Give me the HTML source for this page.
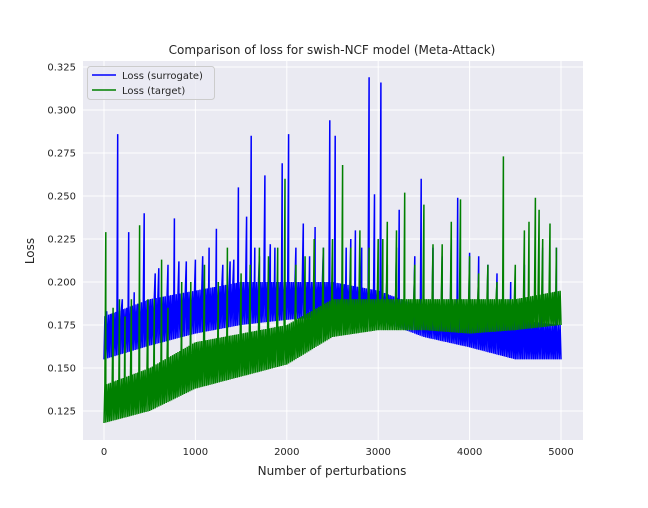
<!DOCTYPE html>
<html><head><meta charset="utf-8"><style>
body{margin:0;background:#fff;font-family:"DejaVu Sans","Liberation Sans",sans-serif;}
svg text{font-family:"DejaVu Sans","Liberation Sans",sans-serif;fill:#262626}
</style></head><body>
<svg id="chart" width="648" height="504">
<rect x="83" y="61" width="500" height="379" fill="#eaeaf2"/>
<g id="grid"></g><g id="series"></g><g id="axes"></g>
<text x="332" y="54" text-anchor="middle" font-size="12">Comparison of loss for swish-NCF model (Meta-Attack)</text>
<text x="332" y="475" text-anchor="middle" font-size="12">Number of perturbations</text>
<text x="34" y="251" text-anchor="middle" font-size="12" transform="rotate(-90 34 251)">Loss</text>
<g>
<rect x="87.5" y="66.5" width="127" height="33" rx="3" fill="#eaeaf2" fill-opacity="0.8" stroke="#ccc"/>
<g><line x1="92" y1="75" x2="116" y2="75" stroke="blue" stroke-width="1.5"/><text x="122" y="79" font-size="10">Loss (surrogate)</text></g>
<g><line x1="92" y1="90" x2="116" y2="90" stroke="green" stroke-width="1.5"/><text x="122" y="94" font-size="10">Loss (target)</text></g>
</g>
</svg>
<script>
const xTicks=[0,1000,2000,3000,4000,5000];
const yTicks=[0.125,0.150,0.175,0.200,0.225,0.250,0.275,0.300,0.325];
const envX=[0,500,1000,1500,2000,2500,3000,3500,4000,4500,5000];
const surrLo=[0.155,0.163,0.170,0.175,0.178,0.180,0.178,0.168,0.162,0.155,0.155];
const surrHi=[0.180,0.190,0.195,0.200,0.200,0.200,0.195,0.185,0.180,0.178,0.175];
const targLo=[0.118,0.125,0.138,0.145,0.152,0.168,0.172,0.172,0.170,0.172,0.175];
const targHi=[0.140,0.150,0.165,0.170,0.175,0.190,0.190,0.190,0.190,0.190,0.195];
const surrSpikeX=[150,270,440,770,1230,1470,1560,1610,1760,1950,2020,2180,2310,2470,2530,2900,2960,3030,3230,3470,3870,4000];
const surrSpikeY=[0.286,0.229,0.240,0.237,0.231,0.255,0.238,0.285,0.262,0.269,0.286,0.234,0.232,0.294,0.285,0.319,0.251,0.316,0.242,0.260,0.249,0.217];
const surrMidX=[30,80,200,330,390,560,600,700,820,900,1000,1080,1150,1300,1380,1420,1650,1700,1820,1870,2100,2250,2400,2650,2700,2750,2820,3100,3200,3400,3600,3700,3800,4100,4200,4300,4450,4600,4800,4950];
const surrMidY=[0.183,0.180,0.190,0.194,0.190,0.205,0.208,0.210,0.212,0.212,0.213,0.215,0.220,0.210,0.212,0.213,0.220,0.215,0.222,0.220,0.220,0.215,0.220,0.220,0.225,0.230,0.220,0.210,0.220,0.215,0.220,0.215,0.225,0.215,0.210,0.205,0.200,0.210,0.220,0.220];
const targSpikeX=[20,390,630,1980,2610,3050,3290,3900,4370,4720,4760,4880];
const targSpikeY=[0.229,0.233,0.213,0.260,0.268,0.225,0.252,0.248,0.273,0.249,0.242,0.234];
const targMidX=[100,170,230,300,480,550,700,850,950,1100,1250,1350,1500,1600,1700,1800,1900,2100,2200,2300,2400,2500,2700,2800,2900,3000,3100,3200,3400,3500,3600,3700,3800,4000,4100,4200,4300,4500,4600,4650,4800,4950];
const targMidY=[0.185,0.190,0.180,0.190,0.190,0.190,0.185,0.200,0.200,0.210,0.200,0.220,0.205,0.210,0.220,0.215,0.220,0.210,0.215,0.225,0.220,0.225,0.220,0.230,0.220,0.225,0.235,0.230,0.210,0.245,0.222,0.222,0.235,0.215,0.205,0.210,0.200,0.210,0.230,0.235,0.225,0.220];
const sx=v=>104+v*457/5000, sy=v=>411-(v-0.125)*1720;
const NS='http://www.w3.org/2000/svg';
function mk(t,a,p){const e=document.createElementNS(NS,t);for(const k in a)e.setAttribute(k,a[k]);p.appendChild(e);return e;}
const grid=document.getElementById('grid'),axes=document.getElementById('axes'),ser=document.getElementById('series');
xTicks.forEach(t=>{const g=mk('line',{x1:sx(t),x2:sx(t),y1:61,y2:440,stroke:'#fff','stroke-width':1},grid);


const l=mk('text',{x:sx(t),y:455,'text-anchor':'middle','font-size':10},axes);l.textContent=t;

});
yTicks.forEach(t=>{const g=mk('line',{x1:83,x2:583,y1:sy(t),y2:sy(t),stroke:'#fff','stroke-width':1},grid);


const l=mk('text',{x:76,y:sy(t)+3.5,'text-anchor':'end','font-size':10},axes);l.textContent=t.toFixed(3);

});
function interp(arr,x){for(let i=0;i<envX.length-1;i++){if(x<=envX[i+1]){const f=(x-envX[i])/(envX[i+1]-envX[i]);return arr[i]+f*(arr[i+1]-arr[i]);}}return arr[arr.length-1];}
function build(lo,hi,spX,spY){
 const sp=spX.map((x,i)=>[x,spY[i]]).sort((a,b)=>a[0]-b[0]);
 let pts=[];let k=0;let j=0;
 for(let x=0;x<=5000;x+=10){
  while(j<sp.length&&sp[j][0]<x+10){pts.push(sp[j]);j++;}
  pts.push([x,(k%2?interp(hi,x):interp(lo,x))]);k++;}
 return pts.map((p,i)=>(i?'L':'M')+sx(p[0]).toFixed(1)+','+sy(p[1]).toFixed(1)).join('');}
const p1=mk('path',{d:build(surrLo,surrHi,surrSpikeX.concat(surrMidX),surrSpikeY.concat(surrMidY)),fill:'none',stroke:'blue','stroke-width':1.5},ser);


const p2=mk('path',{d:build(targLo,targHi,targSpikeX.concat(targMidX),targSpikeY.concat(targMidY)),fill:'none',stroke:'green','stroke-width':1.5},ser);


</script>
</body></html>
